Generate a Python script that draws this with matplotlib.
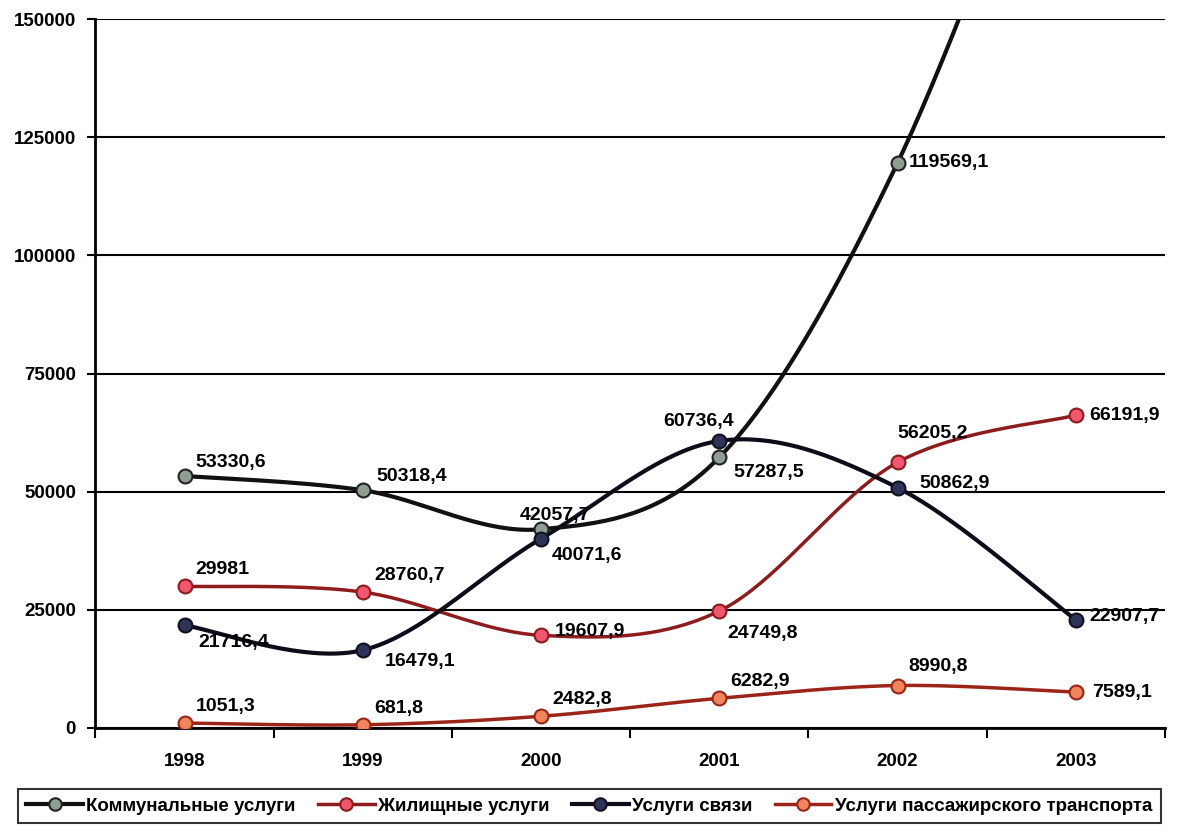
import numpy as np
import matplotlib.pyplot as plt
from matplotlib.lines import Line2D

plt.rcParams['font.family'] = ['Liberation Sans', 'DejaVu Sans']
plt.rcParams['font.weight'] = 'bold'

years = ['1998', '1999', '2000', '2001', '2002', '2003']

kommunal = [53330.6, 50318.4, 42057.7, 57287.5, 119569.1, 215000.0]
zhilisch = [29981, 28760.7, 19607.9, 24749.8, 56205.2, 66191.9]
svyaz = [21716.4, 16479.1, 40071.6, 60736.4, 50862.9, 22907.7]
transport = [1051.3, 681.8, 2482.8, 6282.9, 8990.8, 7589.1]

kommunal_lbl = ['53330,6', '50318,4', '42057,7', '57287,5', '119569,1', None]
zhilisch_lbl = ['29981', '28760,7', '19607,9', '24749,8', '56205,2', '66191,9']
svyaz_lbl = ['21716,4', '16479,1', '40071,6', '60736,4', '50862,9', '22907,7']
transport_lbl = ['1051,3', '681,8', '2482,8', '6282,9', '8990,8', '7589,1']

names = ['Коммунальные услуги', 'Жилищные услуги', 'Услуги связи',
         'Услуги пассажирского транспорта']


def smooth(y, n=40):
    # bezier curves like excel's smoothed lines
    y = np.asarray(y, dtype=float)
    x = np.arange(len(y), dtype=float)
    xs, ys = [], []
    for i in range(len(y) - 1):
        p0 = np.array([x[i], y[i]])
        p3 = np.array([x[i + 1], y[i + 1]])
        pm = np.array([x[i - 1], y[i - 1]]) if i > 0 else p0
        pp = np.array([x[i + 2], y[i + 2]]) if i + 2 < len(y) else p3
        c1 = p0 + (p3 - pm) / 6
        c2 = p3 - (pp - p0) / 6
        t = np.linspace(0, 1, n)[:, None]
        pts = ((1 - t) ** 3 * p0 + 3 * (1 - t) ** 2 * t * c1
               + 3 * (1 - t) * t ** 2 * c2 + t ** 3 * p3)
        xs.extend(pts[:, 0])
        ys.extend(pts[:, 1])
    return np.array(xs), np.array(ys)


fig = plt.figure(figsize=(11.79, 8.32), dpi=100)
ax = fig.add_axes([0.081, 0.125, 0.907, 0.852])

series = [
    (kommunal, kommunal_lbl, '#111111', '#8f9e92', '#222222', 3.0),
    (zhilisch, zhilisch_lbl, '#8e1c1c', '#f0566e', '#8e1c1c', 2.5),
    (svyaz, svyaz_lbl, '#0d0d1a', '#2e3358', '#111122', 3.0),
    (transport, transport_lbl, '#9a2518', '#f0845a', '#9a2518', 2.5),
]

offsets = [
    [(8, 10, 'left'), (10, 10, 'left'), (10, 10, 'center'), (10, -11, 'left'), (8, 0, 'left'), None],
    [(8, 12, 'left'), (8, 12, 'left'), (10, 3, 'left'), (6, -16, 'left'), (0, 21, 'left'), (10, 0, 'left')],
    [(10, -12, 'left'), (16, -8, 'left'), (8, -12, 'left'), (-15, 14, 'center'), (16, 3, 'left'), (10, 2, 'left')],
    [(8, 12, 'left'), (8, 12, 'left'), (8, 12, 'left'), (8, 12, 'left'), (8, 14, 'left'), (12, 0, 'left')],
]

x = np.arange(len(years))
for (vals, lbls, lc, fc, ec, lw), offs in zip(series, offsets):
    sx, sy = smooth(vals)
    ax.plot(sx, sy, color=lc, lw=lw, zorder=3, solid_capstyle='round')
    ax.plot(x, vals, 'o', ms=10, mfc=fc, mec=ec, mew=1.5, zorder=4)
    for xi, v, t, o in zip(x, vals, lbls, offs):
        if t is None or o is None:
            continue
        ax.annotate(t, (xi, v), xytext=(o[0], o[1]), textcoords='offset points',
                    ha=o[2], va='center', fontsize=14, fontweight='bold', zorder=5)

ax.set_xlim(-0.5, 5.5)
ax.set_ylim(0, 150000)
ax.set_yticks(np.arange(0, 150001, 25000))
ax.set_yticklabels([str(v) for v in range(0, 150001, 25000)], fontsize=13.5, fontweight='bold')
ax.set_xticks(x)
ax.set_xticklabels(years, fontsize=13.5, fontweight='bold')
ax.tick_params(axis='x', length=0, pad=18)
ax.set_xticks(np.arange(-0.5, 5.6, 1), minor=True)
ax.tick_params(axis='x', which='minor', length=7, width=1.5, direction='out')
ax.tick_params(axis='y', length=6, width=1.5, pad=8)
ax.grid(axis='y', color='black', lw=1.5)
for s in ['top', 'right']:
    ax.spines[s].set_visible(False)
ax.spines['left'].set_linewidth(2)
ax.spines['bottom'].set_linewidth(2)

handles = [Line2D([], [], color=s[2], lw=s[5], marker='o', ms=9, mfc=s[3], mec=s[4], mew=1.5)
           for s in series]
leg = fig.legend(handles, names, loc='lower center', bbox_to_anchor=(0.5, 0.004), ncol=4,
                 frameon=True, fancybox=False, edgecolor='black',
                 prop={'size': 13.5, 'weight': 'bold'},
                 handlelength=3.0, handletextpad=0.2, columnspacing=1.2, borderpad=0.45,
                 borderaxespad=0.3)
leg.get_frame().set_linewidth(1.5)

fig.savefig('out.png', dpi=100)
